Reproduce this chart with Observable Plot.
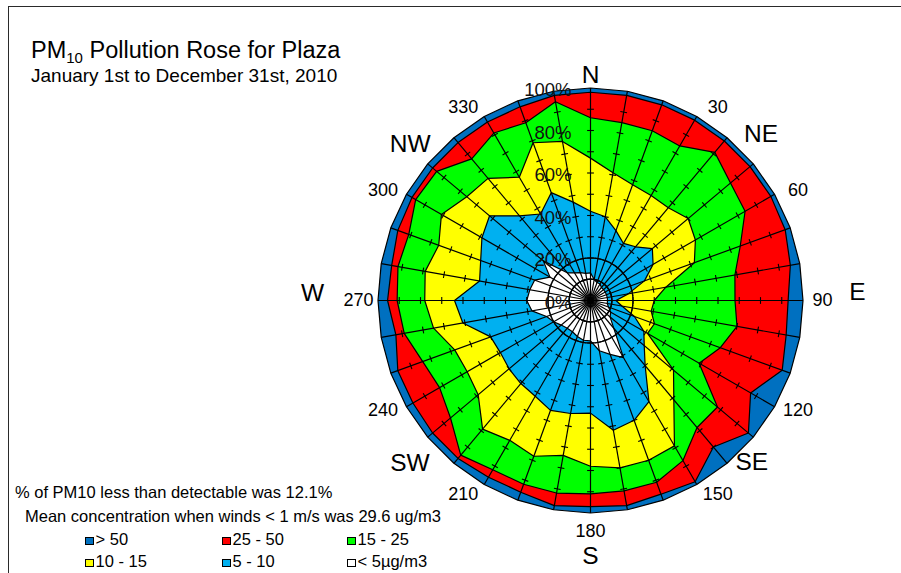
<!DOCTYPE html>
<html>
<head>
<meta charset="utf-8">
<script src="https://cdn.jsdelivr.net/npm/d3@7"></script>
<script src="https://cdn.jsdelivr.net/npm/@observablehq/plot@0.6"></script>
<style>
  body { margin: 0; background: #fff; font-family: "Liberation Sans", Arial, sans-serif; }
  #wrap { position: relative; width: 901px; height: 573px; overflow: hidden; background: #fff; }
  #chart { position: absolute; left: 0; top: 0; }
  #frame { position: absolute; left: 8px; top: 6px; width: 920px; height: 600px;
           border-top: 1.6px solid #2a2a2a; border-left: 1.6px solid #2a2a2a; }
  .t { position: absolute; white-space: nowrap; color: #000; line-height: 1; }
  .t sub { font-size: 15px; vertical-align: baseline; position: relative; top: 5px; line-height: 0; }
  .sw { position: absolute; width: 7px; height: 6px; border: 1px solid #000; }
</style>
</head>
<body>
<div id="wrap">
  <div id="frame"></div>
  <div id="chart"></div>
  <div id="overlay"></div>
</div>
<script>
// ---------------- data ----------------
const directions = [0,10,20,30,40,50,60,70,80,90,100,110,120,130,140,150,160,170,
                    180,190,200,210,220,230,240,250,260,270,280,290,300,310,320,330,340,350];
// percent of time in each concentration class, per wind direction
const lt5    = [13,10,9,9,8,8,8,8,8,8,8,9,11,12,17,31,27,24,19,19,18,17,17,18,20,22,28,30,29,28,22,29,17,15,14,13];
const b5_10  = [29,30,26,22,25,30,26,19,10,4,7,13,18,21,23,24,33,38,34,35,37,35,34,32,29,28,33,34,24,27,37,33,35,32,40,34];
const b10_15 = [25,21,23,26,24,22,23,25,18,18,14,10,2,18,21,24,20,18,25,20,23,24,28,19,18,18,14,14,26,21,22,14,23,20,25,29];
const b15_25 = [19,24,27,27,34,26,27,23,33,38,41,33,28,27,17,8,11,11,13,18,14,16,16,17,15,16,14,13,13,15,14,18.5,12,24,10,19];
const b25_50 = [12,13,13,14,7,12,14,22.5,26.5,25,23.5,31,28,19,12,11.5,6,7,6,6,4,4,2,11,14.5,12.5,4,4.5,3,5.5,2,2.5,10,6,8,3];
const gt50   = [2,2,2,2,2,2,2,2.5,4.5,7,6.5,4,13,3,10,1.5,3,2,3,2,4,4,3,3,3.5,3.5,7,4.5,5,3.5,3,3,3,3,3,2];

const classLabels = ["< 5µg/m3", "5 - 10", "10 - 15", "15 - 25", "25 - 50", "> 50"];
const classColors = ["#FFFFFF", "#00B0F0", "#FFFF00", "#00FF00", "#FF0000", "#0070C0"];

const pctTicks   = [0, 20, 40, 60, 80, 100];
const minorTicks = [10, 20, 30, 40, 50, 60, 70, 80, 90];
const ringLevels = [10, 20];
const degLabels  = [30, 60, 90, 120, 150, 180, 210, 240, 270, 300, 330];
const compassLabels = ["N", "NE", "E", "SE", "S", "SW", "W", "NW"];

const title = "PM";
const titleSub = "10";
const titleRest = " Pollution Rose for Plaza";
const subtitle = "January 1st to December 31st, 2010";
const note1 = "% of PM10 less than detectable was 12.1%";
const note2 = "Mean concentration when winds < 1 m/s was 29.6 ug/m3";

// ---------------- layout ----------------
const W = 901, H = 573;
const cx = 590, cy = 300;      // pixel centre of the rose
const k = 2.125;               // pixels per 1 %
const compassLayout = {        // [angle, radius px]
  N: [0, 225.5], NE: [45.8, 238], E: [88.3, 267], SE: [135, 228],
  S: [180, 256], SW: [228, 243], W: [271.6, 278], NW: [311, 239]
};

const rad = a => a * Math.PI / 180;
const P = (a, r) => ({x: r * Math.sin(rad(a)), y: r * Math.cos(rad(a))});

const bins = [lt5, b5_10, b10_15, b15_25, b25_50, gt50];
const cum = directions.map((d, i) => { let s = 0; return bins.map(b => (s += b[i])); });

const marks = [];
// filled rings, outermost first
for (let j = bins.length - 1; j >= 0; j--) {
  const pts = directions.map((d, i) => P(d, cum[i][j]));
  marks.push(Plot.line(pts, {x: "x", y: "y", curve: "linear-closed",
    fill: classColors[j], stroke: "#000", strokeWidth: 1.2, strokeLinejoin: "round"}));
}
// inner reference rings
for (const lv of ringLevels) {
  const pts = d3.range(0, 360, 4).map(a => P(a, lv));
  marks.push(Plot.line(pts, {x: "x", y: "y", curve: "linear-closed", stroke: "#000", strokeWidth: 1.3}));
}
// spokes
marks.push(Plot.link(directions, {
  x1: 0, y1: 0, x2: d => P(d, 100).x, y2: d => P(d, 100).y, stroke: "#000", strokeWidth: 1.2
}));
// tick marks along spokes
const h = 3.4 / k;
const tickRows = directions.flatMap(d => minorTicks.map(r => ({d, r})));
marks.push(Plot.link(tickRows, {
  x1: t => P(t.d, t.r).x + h * Math.cos(rad(t.d)),
  y1: t => P(t.d, t.r).y - h * Math.sin(rad(t.d)),
  x2: t => P(t.d, t.r).x - h * Math.cos(rad(t.d)),
  y2: t => P(t.d, t.r).y + h * Math.sin(rad(t.d)),
  stroke: "#000", strokeWidth: 1.1
}));
// percentage labels
marks.push(Plot.text(pctTicks, {
  x: 0, y: d => d, text: d => d + "%", dx: -19, dy: 2.5, textAnchor: "end",
  fontSize: 18.5, fill: "#111"
}));
// degree labels
marks.push(Plot.text(degLabels, {
  x: a => Math.sin(rad(a)) * (232 + 30 * Math.cos(rad(a)) ** 2) / k,
  y: a => Math.cos(rad(a)) * (220 + 11 * Math.cos(rad(a)) ** 8) / k,
  text: a => String(a), fontSize: 18, fill: "#000", textAnchor: "middle"
}));
// compass labels
marks.push(Plot.text(compassLabels, {
  x: c => P(compassLayout[c][0], compassLayout[c][1]).x / k,
  y: c => P(compassLayout[c][0], compassLayout[c][1]).y / k,
  text: c => c, fontSize: 24.5, fill: "#000", textAnchor: "middle"
}));

const chart = Plot.plot({
  width: W, height: H, margin: 0,
  x: {domain: [-cx / k, (W - cx) / k], axis: null},
  y: {domain: [-(H - cy) / k, cy / k], axis: null},
  style: {fontFamily: "Liberation Sans, Arial, sans-serif", background: "transparent"},
  marks
});
document.getElementById("chart").appendChild(chart);

// ---------------- titles, notes, legend ----------------
const ov = document.getElementById("overlay");
function addText(html, left, baseline, size) {
  const el = document.createElement("div");
  el.className = "t";
  el.style.fontSize = size + "px";
  el.style.left = left + "px";
  el.style.top = (baseline - 0.8465 * size) + "px";
  el.innerHTML = html;
  ov.appendChild(el);
  return el;
}
addText(title + "<sub>" + titleSub + "</sub>" + titleRest, 31, 59, 23.5);
addText(subtitle, 31, 82, 19);
addText(note1.replace("<", "&lt;"), 15, 498, 16.5);
addText(note2.replace("<", "&lt;"), 25, 522, 16.5);

const legendOrder = [5, 4, 3, 2, 1, 0];
const colX = [85, 222, 347];
const rowBase = [545, 567];
legendOrder.forEach((ci, n) => {
  const col = n % 3, row = Math.floor(n / 3);
  const sw = document.createElement("div");
  sw.className = "sw";
  sw.style.left = colX[col] + "px";
  sw.style.top = (rowBase[row] - 8.5) + "px";
  sw.style.background = classColors[ci];
  ov.appendChild(sw);
  addText(classLabels[ci].replace("<", "&lt;"), colX[col] + 10.5, rowBase[row], 16.5);
});
</script>
</body>
</html>
